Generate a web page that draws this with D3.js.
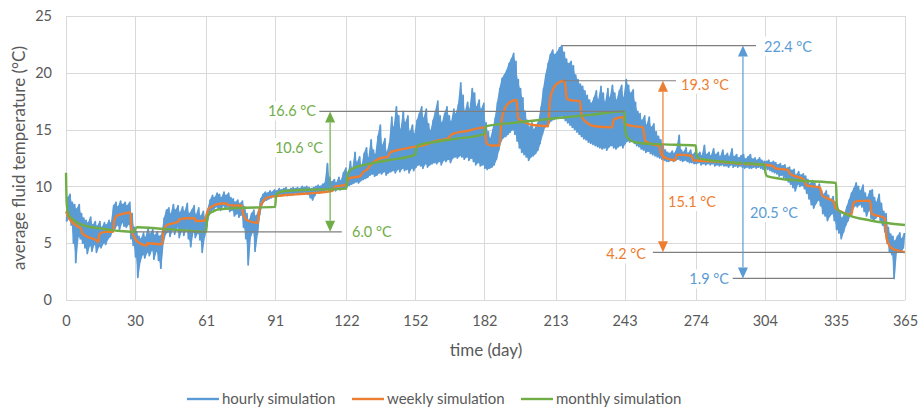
<!DOCTYPE html>
<html>
<head>
<meta charset="utf-8">
<script src="https://cdn.jsdelivr.net/npm/d3@7"></script>
<style>
  body { margin: 0; background: #fff; }
  svg text { font-family: Lato, "Open Sans", sans-serif; }
</style>
</head>
<body>
<svg id="chart" width="918" height="410"></svg>
<script>
// ---- data -------------------------------------------------------------
const dayTicks = [0, 30, 61, 91, 122, 152, 182, 213, 243, 274, 304, 335, 365];
const tempTicks = [0, 5, 10, 15, 20, 25];

// hourly simulation: daily high / low of the hourly fluid temperature (day 0..364)
const hourlyHigh = [
  9.0,9.3,8.6,8.4,8.0,8.4,7.6,7.2,7.0,6.8,
  7.3,6.6,6.9,6.5,6.9,6.4,6.8,6.6,7.0,6.8,
  8.3,8.6,8.2,8.7,8.4,8.6,8.3,8.6,7.6,6.4,
  6.0,5.6,5.4,5.9,5.5,6.4,5.8,6.2,5.7,6.0,
  5.6,5.8,7.2,7.9,8.1,7.6,8.4,7.9,8.3,7.7,
  8.2,7.8,8.5,7.6,7.9,8.3,7.5,8.1,7.4,7.8,
  7.2,8.0,8.8,9.2,9.0,9.4,9.3,9.0,9.5,9.2,
  9.4,9.0,8.9,8.6,8.8,8.5,8.7,8.2,7.6,7.0,
  7.6,7.9,7.4,7.8,8.9,9.3,9.5,9.4,9.6,9.5,
  9.7,9.6,9.8,9.7,9.8,9.9,9.7,9.8,9.9,9.8,
  9.9,9.8,10.0,9.9,10.0,9.9,9.8,9.9,10.0,10.1,
  10.0,10.2,10.3,12.0,10.8,10.4,10.6,10.3,10.8,10.5,
  11.2,11.6,11.0,12.2,11.5,13.0,12.1,12.6,11.8,12.9,
  13.4,12.5,14.1,13.2,12.8,14.4,15.4,13.6,14.2,13.0,
  13.8,16.1,15.2,17.0,16.2,15.0,16.6,15.6,16.2,14.8,
  15.4,14.6,15.8,16.4,17.0,16.0,16.8,15.5,14.9,15.8,
  16.6,17.5,16.2,15.6,16.4,17.0,16.2,15.7,16.8,16.4,
  17.2,19.1,18.0,16.6,17.4,16.8,18.6,18.2,17.0,17.6,
  16.8,17.3,15.6,14.8,14.2,15.0,16.0,17.4,18.6,19.5,
  19.8,20.2,20.8,21.2,21.7,21.0,19.4,18.6,17.8,16.6,
  15.8,15.2,15.6,15.0,15.4,15.8,17.0,18.6,19.8,20.8,
  21.6,22.0,21.6,21.8,22.2,22.4,21.8,21.2,20.8,21.0,
  20.6,19.8,19.4,19.0,18.8,18.4,18.0,17.6,17.3,17.8,
  18.4,17.6,18.8,18.2,17.4,18.6,17.8,18.9,18.2,17.6,
  18.4,18.9,17.8,19.4,18.9,18.2,18.5,17.4,16.6,16.4,
  15.8,16.2,15.4,16.1,15.2,15.5,14.8,14.4,14.1,13.6,
  13.2,13.0,12.9,13.1,12.9,13.3,14.5,13.2,13.0,13.4,
  12.9,13.2,12.8,13.0,12.8,13.0,12.7,13.6,12.8,13.0,
  12.7,13.3,12.8,13.0,12.6,13.2,12.7,12.9,12.6,13.3,
  12.6,12.8,12.5,12.7,12.8,12.4,12.6,12.8,12.4,12.5,
  12.3,12.5,12.3,12.2,12.2,12.3,12.1,12.2,12.1,11.9,
  12.0,11.8,11.9,11.6,11.7,11.4,11.5,11.0,11.3,11.0,
  11.1,10.9,10.6,10.2,10.5,10.3,9.9,10.2,9.6,9.3,
  9.6,9.2,8.8,9.1,8.6,8.0,7.8,7.2,7.6,8.2,
  8.8,9.4,9.8,10.3,10.0,9.6,10.1,9.4,9.0,9.6,
  9.7,9.0,8.6,9.3,8.5,7.8,7.6,6.4,5.8,5.6,
  5.2,5.6,5.9,5.4,5.9
];
const hourlyLow = [
  6.9,7.2,6.6,5.0,3.3,5.6,5.4,5.0,4.6,4.1,
  4.8,4.3,4.9,4.2,4.7,4.6,5.0,4.9,5.4,5.6,
  6.1,6.3,6.6,6.2,6.8,6.5,6.4,6.7,5.4,4.8,
  3.8,2.0,3.4,4.0,3.7,4.2,3.9,4.4,3.6,4.3,
  3.5,2.8,5.0,5.8,6.0,5.6,6.2,5.8,6.4,5.5,
  6.1,5.7,6.3,5.4,4.7,6.0,5.5,5.9,5.3,4.2,
  5.6,6.5,7.6,7.9,8.0,8.2,8.0,7.9,8.3,8.1,
  8.2,7.8,7.9,7.4,7.6,7.3,7.5,6.4,5.4,3.1,
  5.6,6.0,4.3,5.8,7.5,8.4,8.7,8.8,8.9,9.0,
  9.1,9.2,9.3,9.2,9.3,9.3,9.2,9.4,9.3,9.4,
  9.4,9.3,9.4,9.5,9.4,9.3,9.0,8.8,9.2,9.5,
  9.4,9.5,9.6,9.7,9.6,9.6,9.7,9.6,9.8,9.7,
  9.8,9.9,10.0,10.1,10.2,10.3,10.4,10.3,10.5,10.6,
  10.7,10.8,11.0,11.1,10.9,11.0,11.2,11.1,11.3,11.0,
  11.2,11.3,11.4,11.2,11.5,11.3,11.6,11.4,11.5,11.2,
  11.6,11.4,11.7,11.9,11.8,11.6,12.0,11.7,11.9,12.0,
  12.1,12.0,12.2,11.9,12.3,12.2,12.4,12.1,12.5,12.6,
  12.5,12.7,12.6,12.4,12.6,12.3,12.5,12.2,11.9,12.1,
  11.8,11.9,11.6,11.5,11.6,11.7,11.9,12.4,13.2,14.0,
  14.3,14.4,14.6,14.8,15.0,14.6,14.0,13.4,13.0,12.8,
  12.6,12.3,12.6,12.7,12.9,13.2,13.8,14.6,15.2,15.4,
  15.6,15.8,15.9,16.0,16.1,16.2,16.0,15.8,15.6,15.4,
  15.2,15.0,14.8,14.6,14.4,14.2,14.1,13.9,13.8,13.7,
  13.6,13.5,13.4,13.3,13.4,13.2,13.5,13.6,13.4,13.3,
  13.5,13.6,13.4,13.8,14.0,13.9,14.0,13.8,13.6,13.5,
  13.3,13.2,13.0,13.1,12.9,12.8,12.7,12.6,12.5,12.4,
  12.3,12.2,12.2,12.3,12.2,12.3,12.4,12.3,12.2,12.3,
  12.2,12.1,12.1,12.0,12.0,12.1,11.9,12.0,11.9,12.0,
  11.9,12.0,11.8,11.9,11.8,11.9,11.8,11.8,11.7,11.9,
  11.7,11.8,11.7,11.8,11.7,11.6,11.7,11.6,11.6,11.7,
  11.6,11.7,11.6,11.5,11.6,11.5,11.4,11.3,11.2,11.1,
  10.9,11.0,10.8,10.6,10.4,10.2,9.9,9.6,10.2,10.0,
  10.1,9.8,9.4,8.9,8.4,8.1,8.5,8.8,8.3,7.6,
  7.4,7.0,7.4,7.6,7.0,6.2,5.9,5.4,6.0,6.6,
  7.0,7.6,8.0,8.3,8.2,8.4,8.2,7.8,7.4,7.9,
  7.2,7.0,7.2,7.4,7.0,6.6,6.0,5.0,4.2,4.0,
  1.9,4.2,4.4,4.2,4.6
];

// weekly simulation
const weeklyDays = [
  0,2,5,6.5,7,9,13.5,14,14.5,17,20.5,21,22,25,28,28.5,30,32,35,35.5,
  41.8,42.3,44,48.8,49.3,53,56,56.5,60.5,61,62,64,68,70,70.5,76.5,77,79,83.5,84,
  85,87.3,91.5,100,110,116,117,121,122,123,128,129,131,133,137,140,141,147,152,155,
  159.5,161,166,168,175,182,183,185,188.5,189.5,191,193,196,196.7,200,203,209.8,210.5,212,214,
  217,217.8,219,223.6,224.3,226,230,237.5,238.3,242.4,243.2,247,251,252,255,258,259,261,265,265.8,
  272,273,281,288,294,304,307.5,308.5,314,315,321,322,328,329,334,334.8,337,341.7,342.5,344,
  349.7,350.5,356.2,357,359,362,365
];
const weeklyTemps = [
  7.8,7.0,6.5,6.3,5.9,5.6,5.2,5.1,5.8,6.0,6.0,7.0,7.4,7.6,7.7,6.2,5.4,5.0,4.8,5.0,
  4.9,6.0,6.6,6.9,7.1,7.2,7.2,6.95,7.0,7.4,8.0,8.3,8.5,8.5,8.35,8.3,7.6,7.0,6.8,7.8,
  8.4,9.0,9.15,9.3,9.45,9.6,10.0,10.1,10.2,10.7,10.9,11.2,11.5,12.0,12.5,12.6,13.0,13.3,13.5,13.6,
  13.9,14.0,14.2,14.6,14.9,15.2,13.8,13.6,13.6,15.8,16.9,17.4,17.6,16.0,15.6,15.4,15.3,17.6,18.6,19.1,
  19.3,17.8,17.6,17.5,16.2,15.7,15.3,15.2,15.9,16.1,15.5,15.3,15.2,14.0,13.7,13.6,12.8,12.5,12.3,12.8,
  12.7,12.3,12.2,12.1,12.0,11.9,11.8,11.6,11.45,11.1,10.6,10.1,9.9,9.2,8.65,8.1,7.8,7.5,8.5,8.7,
  8.75,7.6,7.2,5.4,4.6,4.35,4.2
];

// monthly simulation
const monthlyDays = [
  0,0.3,1,3,6,10,15,20,25,30,30.3,31,40,50,61,61.3,62,64,67,75,
  91,91.3,92,95,105,122,122.3,123,125,130,140,152,152.3,153,160,170,182,182.3,183,195,
  213,228,243,243.3,244,246,250,260,274,274.3,275,280,290,304,304.3,305,310,320,335,335.3,
  336,340,350,365
];
const monthlyTemps = [
  11.2,8.5,7.6,7.1,6.7,6.45,6.3,6.15,6.05,6.0,6.3,6.4,6.3,6.15,6.0,7.0,7.5,7.8,8.0,8.1,
  8.2,9.0,9.4,9.6,9.7,9.8,10.8,11.3,11.6,11.9,12.3,12.8,13.3,13.6,13.9,14.2,14.6,15.0,15.3,15.6,
  16.0,16.3,16.6,15.0,14.4,14.0,13.8,13.7,13.6,12.8,12.5,12.3,12.1,11.9,11.2,10.9,10.7,10.5,10.3,8.5,
  7.9,7.5,7.0,6.6
];

// stated extremes of each simulation [max, min]
const hourlyRange = [22.4, 1.9];
const weeklyRange = [19.3, 4.2];
const monthlyRange = [16.6, 6.0];

const seriesNames = ["hourly simulation", "weekly simulation", "monthly simulation"];
const seriesColors = ["#5B9BD5", "#ED7D31", "#70AD47"];

// ---- chart ------------------------------------------------------------
const svg = d3.select("#chart");
const x = d3.scaleLinear().domain([0, 365]).range([66, 905]);
const y = d3.scaleLinear().domain([0, 25]).range([300, 16]);
const crisp = v => Math.round(v) + 0.5;

// gridlines
const grid = svg.append("g").attr("stroke", "#D9D9D9").attr("stroke-width", 1);
grid.selectAll("line.v").data(dayTicks).join("line")
  .attr("x1", d => crisp(x(d))).attr("x2", d => crisp(x(d)))
  .attr("y1", y(25)).attr("y2", y(0));
grid.selectAll("line.h").data(tempTicks).join("line")
  .attr("y1", d => crisp(y(d))).attr("y2", d => crisp(y(d)))
  .attr("x1", x(0)).attr("x2", x(365));

// axes (labels only, lines come from the grid)
const xAxis = d3.axisBottom(x).tickValues(dayTicks).tickSize(0).tickPadding(16);
const yAxis = d3.axisLeft(y).tickValues(tempTicks).tickSize(0).tickPadding(14);
const gx = svg.append("g").attr("transform", `translate(0,${y(0)})`).call(xAxis);
const gy = svg.append("g").attr("transform", `translate(${x(0)},0)`).call(yAxis);
[gx, gy].forEach(g => {
  g.select(".domain").remove();
  g.selectAll("text").attr("fill", "#595959").style("font-size", "14.5px")
    .style("font-family", "Lato, 'Open Sans', sans-serif");
});

svg.append("text").attr("x", 486).attr("y", 356).attr("text-anchor", "middle")
  .attr("fill", "#595959").style("font-size", "17px").text("time (day)");
svg.append("text").attr("transform", `translate(25,${(y(0) + y(25)) / 2}) rotate(-90)`)
  .attr("text-anchor", "middle").attr("fill", "#595959").style("font-size", "17px")
  .text("average fluid temperature (°C)");

// series
const line = d3.line().x(d => x(d[0])).y(d => y(d[1]));
const hourlyPts = [];
hourlyLow.forEach((lo, i) => {
  hourlyPts.push([i + 0.25, lo]);
  hourlyPts.push([i + 0.75, hourlyHigh[i]]);
});
const weeklyPts = weeklyDays.map((d, i) => [d, weeklyTemps[i]]);
const monthlyPts = monthlyDays.map((d, i) => [d, monthlyTemps[i]]);

// hourly band: the daily swing is filled, the hourly trace is drawn over it
const band = d3.area().x((d, i) => x(i + 0.5)).y0(d => y(d)).y1((d, i) => y(hourlyHigh[i]));
svg.append("path").datum(hourlyLow).attr("d", band).attr("fill", seriesColors[0]);
svg.append("path").datum(hourlyPts).attr("d", line).attr("fill", "none")
  .attr("stroke", seriesColors[0]).attr("stroke-width", 1.8).attr("stroke-linejoin", "round");

const smooth = d3.line().x(d => x(d[0])).y(d => y(d[1])).curve(d3.curveMonotoneX);
svg.append("path").datum(weeklyPts).attr("d", smooth)
  .attr("fill", "none").attr("stroke", seriesColors[1]).attr("stroke-width", 2.4).attr("stroke-linejoin", "round");
svg.append("path").datum(monthlyPts).attr("d", smooth)
  .attr("fill", "none").attr("stroke", seriesColors[2]).attr("stroke-width", 2.4).attr("stroke-linejoin", "round");

// range annotations: reference lines at max/min, double arrow, value labels
const annotations = [
  { range: monthlyRange, color: seriesColors[2], textColor: "#70AD47",
    maxSpan: [109.6, 243], minSpan: [30, 120], arrowDay: 114.9,
    maxLabel: { x: 316, anchor: "end", dy: 0 }, minLabel: { x: 352, anchor: "start", dy: 0 },
    spanLabel: { x: 323, y: 148, anchor: "end" } },
  { range: weeklyRange, color: seriesColors[1], textColor: "#ED7D31",
    maxSpan: [216, 265.4], minSpan: [255.3, 364.5], arrowDay: 259.7,
    maxLabel: { x: 681, anchor: "start", dy: 4 }, minLabel: { x: 646, anchor: "end", dy: 2 },
    spanLabel: { x: 668, y: 202, anchor: "start" } },
  { range: hourlyRange, color: seriesColors[0], textColor: "#5B9BD5",
    maxSpan: [215.8, 300.2], minSpan: [290, 360.2], arrowDay: 294.5,
    maxLabel: { x: 764, anchor: "start", dy: 1 }, minLabel: { x: 729, anchor: "end", dy: 1 },
    spanLabel: { x: 750, y: 213, anchor: "start" } }
];

const ann = svg.append("g");
function label(g, xp, yp, anchor, color, str) {
  const t = g.append("text").attr("x", xp).attr("y", yp).attr("dy", "0.35em")
    .attr("text-anchor", anchor).attr("fill", color).style("font-size", "14.5px").text(str);
  const b = t.node().getBBox();
  g.insert("rect", "text").attr("x", b.x - 3).attr("y", b.y - 1)
    .attr("width", b.width + 6).attr("height", b.height + 2).attr("fill", "#fff");
}
annotations.forEach(a => {
  const [hi, lo] = a.range;
  const g = ann.append("g");
  g.append("line").attr("x1", x(a.maxSpan[0])).attr("x2", x(a.maxSpan[1]))
    .attr("y1", y(hi)).attr("y2", y(hi)).attr("stroke", "#7F7F7F").attr("stroke-width", 1.2);
  g.append("line").attr("x1", x(a.minSpan[0])).attr("x2", x(a.minSpan[1]))
    .attr("y1", y(lo)).attr("y2", y(lo)).attr("stroke", "#7F7F7F").attr("stroke-width", 1.2);
  const ax = x(a.arrowDay), head = 11, half = 5;
  g.append("line").attr("x1", ax).attr("x2", ax).attr("y1", y(hi) + head).attr("y2", y(lo) - head)
    .attr("stroke", a.color).attr("stroke-width", 1.2);
  g.append("path").attr("fill", a.color)
    .attr("d", `M${ax},${y(hi)} L${ax - half},${y(hi) + head} L${ax + half},${y(hi) + head} Z`);
  g.append("path").attr("fill", a.color)
    .attr("d", `M${ax},${y(lo)} L${ax - half},${y(lo) - head} L${ax + half},${y(lo) - head} Z`);
  const lg = ann.append("g");
  label(lg, a.maxLabel.x, y(hi) + a.maxLabel.dy, a.maxLabel.anchor, a.textColor, `${hi.toFixed(1)} °C`);
  label(lg, a.minLabel.x, y(lo) + a.minLabel.dy, a.minLabel.anchor, a.textColor, `${lo.toFixed(1)} °C`);
  label(lg, a.spanLabel.x, a.spanLabel.y, a.spanLabel.anchor, a.textColor, `${(hi - lo).toFixed(1)} °C`);
});

// legend
const legendX = [187, 352, 521];
const legend = svg.append("g").attr("transform", "translate(0,399)");
seriesNames.forEach((name, i) => {
  legend.append("line").attr("x1", legendX[i]).attr("x2", legendX[i] + 32)
    .attr("y1", 0).attr("y2", 0).attr("stroke", seriesColors[i]).attr("stroke-width", 2.4);
  legend.append("text").attr("x", legendX[i] + 35).attr("y", 0).attr("dy", "0.35em")
    .attr("fill", "#595959").style("font-size", "15px").text(name);
});
</script>
</body>
</html>
